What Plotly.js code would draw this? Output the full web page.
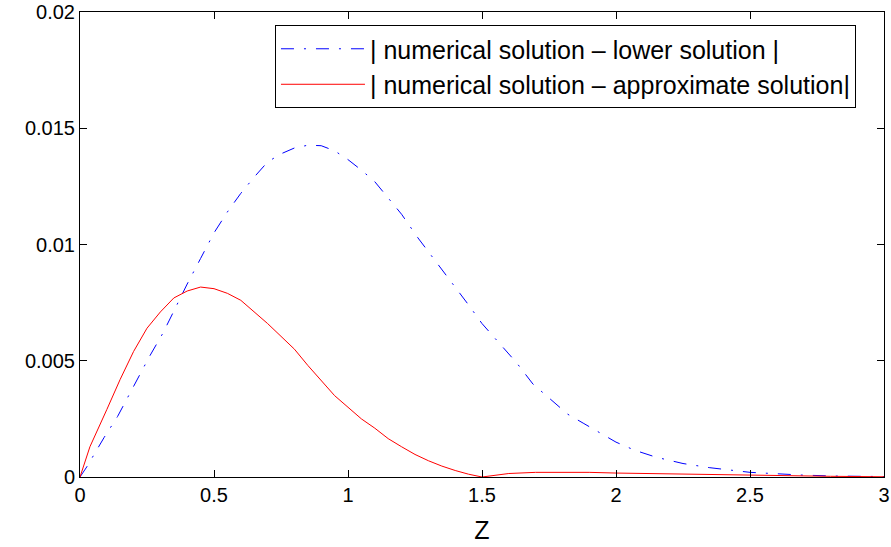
<!DOCTYPE html>
<html>
<head>
<meta charset="utf-8">
<script src="https://cdn.plot.ly/plotly-3.0.1.min.js"></script>
<style>html,body{margin:0;padding:0;background:#fff;}#chart{width:891px;height:547px;}</style>
</head>
<body>
<div id="chart"></div>
<script>
// Series 1: | numerical solution - lower solution |
const zLower = [0, 0.025, 0.09, 0.14, 0.2, 0.26, 0.31, 0.36, 0.4, 0.45, 0.5, 0.55, 0.6, 0.65, 0.7, 0.75, 0.8, 0.85, 0.9, 0.95, 1.0, 1.05, 1.1, 1.15, 1.2, 1.26, 1.32, 1.38, 1.45, 1.5, 1.57, 1.63, 1.69, 1.75, 1.82, 1.88, 1.94, 2.0, 2.07, 2.15, 2.25, 2.35, 2.5, 2.6, 2.7, 2.82, 3.0];
const errLower = [0, 0.00043, 0.0017, 0.0026, 0.0039, 0.0052, 0.0062, 0.0074, 0.0083, 0.0094, 0.0105, 0.0114, 0.0122, 0.0129, 0.01355, 0.0139, 0.01415, 0.01427, 0.01425, 0.01403, 0.01365, 0.0132, 0.0127, 0.0120, 0.0113, 0.0103, 0.0094, 0.0085, 0.0074, 0.0066, 0.0057, 0.0049, 0.0040, 0.0034, 0.0027, 0.0023, 0.0019, 0.0015, 0.00115, 0.00085, 0.00058, 0.0004, 0.0002, 0.00013, 0.00008, 0.00004, 0.00002];

// Series 2: | numerical solution - approximate solution |
const zApprox = [0, 0.037, 0.1, 0.15, 0.2, 0.25, 0.3, 0.35, 0.4, 0.45, 0.5, 0.55, 0.6, 0.65, 0.7, 0.75, 0.8, 0.85, 0.9, 0.95, 1.0, 1.05, 1.1, 1.15, 1.2, 1.25, 1.3, 1.35, 1.4, 1.45, 1.5, 1.6, 1.7, 1.8, 1.9, 2.0, 2.2, 2.5, 2.8, 3.0];
const errApprox = [0, 0.0013, 0.0029, 0.0042, 0.0054, 0.0064, 0.0071, 0.0077, 0.008, 0.00817, 0.0081, 0.0079, 0.0076, 0.0071, 0.0066, 0.00605, 0.0055, 0.0048, 0.00415, 0.0035, 0.0030, 0.0025, 0.0021, 0.00165, 0.0013, 0.00097, 0.0007, 0.00047, 0.00028, 0.00012, 0, 0.00015, 0.0002, 0.00021, 0.0002, 0.00017, 0.00013, 0.00008, 0.00003, 0.00001];

const seriesNames = ['| numerical solution \u2013 lower solution |', '| numerical solution \u2013 approximate solution|'];
const xTickVals = [0, 0.5, 1, 1.5, 2, 2.5, 3];
const xTickText = ['0', '0.5', '1', '1.5', '2', '2.5', '3'];
const yTickVals = [0, 0.005, 0.01, 0.015, 0.02];
const yTickText = ['0', '0.005', '0.01', '0.015', '0.02'];

const FONT = 'Liberation Sans, Arial, Helvetica, sans-serif';

const traces = [
  {x: zLower, y: errLower, type: 'scatter', mode: 'lines', name: seriesNames[0],
   line: {color: 'rgb(0,0,255)', width: 1, dash: '13px,10px,2px,10px'}},
  {x: zApprox, y: errApprox, type: 'scatter', mode: 'lines', name: seriesNames[1],
   line: {color: 'rgb(255,0,0)', width: 1}}
];

const axisCommon = {
  showline: true, linecolor: '#000', linewidth: 1, mirror: 'allticks',
  ticks: 'inside', ticklen: 7, tickwidth: 1, tickcolor: '#000',
  showgrid: false, zeroline: false,
  tickfont: {family: FONT, size: 20, color: '#000'}
};

const layout = {
  width: 891, height: 547,
  margin: {l: 80, r: 7, t: 12, b: 70},
  paper_bgcolor: '#fff', plot_bgcolor: '#fff',
  font: {family: FONT, color: '#000'},
  xaxis: Object.assign({}, axisCommon, {
    range: [0, 3], tickmode: 'array', tickvals: xTickVals, ticktext: xTickText,
    title: {text: 'Z', font: {family: FONT, size: 25, color: '#000'}, standoff: 16}
  }),
  yaxis: Object.assign({}, axisCommon, {
    range: [0, 0.02], tickmode: 'array', tickvals: yTickVals, ticktext: yTickText
  }),
  showlegend: true,
  legend: {
    x: 0.2425, y: 0.972, xanchor: 'left', yanchor: 'top',
    bgcolor: '#fff', bordercolor: '#000', borderwidth: 1,
    font: {family: FONT, size: 25, color: '#000'},
    itemwidth: 84
  }
};

Plotly.newPlot('chart', traces, layout, {staticPlot: true, displayModeBar: false});
</script>
</body>
</html>
